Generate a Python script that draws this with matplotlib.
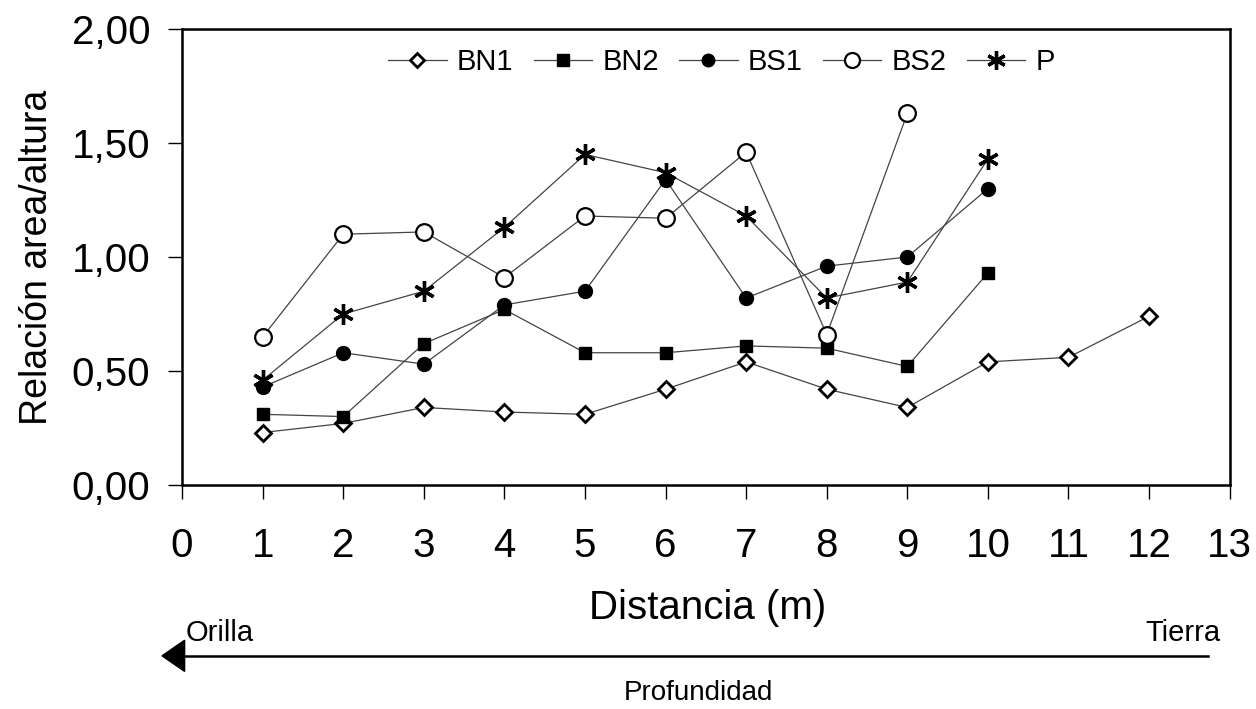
import numpy as np
from matplotlib import pyplot as plt

plt.rcParams['font.family'] = ['Liberation Sans', 'DejaVu Sans']

# Datos
dist = np.arange(1, 13)
bn1 = [0.23, 0.27, 0.34, 0.32, 0.31, 0.42, 0.54, 0.42, 0.34, 0.54, 0.56, 0.74]
bn2 = [0.31, 0.30, 0.62, 0.77, 0.58, 0.58, 0.61, 0.60, 0.52, 0.93]
bs1 = [0.43, 0.58, 0.53, 0.79, 0.85, 1.34, 0.82, 0.96, 1.00, 1.30]
bs2 = [0.65, 1.10, 1.11, 0.91, 1.18, 1.17, 1.46, 0.66, 1.63]
p = [0.46, 0.75, 0.85, 1.13, 1.45, 1.37, 1.18, 0.82, 0.89, 1.43]

yticks = [0.0, 0.5, 1.0, 1.5, 2.0]
ytick_labels = ['0,00', '0,50', '1,00', '1,50', '2,00']

fig = plt.figure(figsize=(12.56, 7.09), dpi=100)
ax = fig.add_axes([0.145, 0.316, 0.834, 0.643])

linea = dict(color='#444444', lw=0.9)
ax.plot(dist[:len(bn1)], bn1, marker='D', ms=8, mfc='white', mec='black', mew=2, label='BN1', **linea)
ax.plot(dist[:len(bn2)], bn2, marker='s', ms=9, mfc='black', mec='black', label='BN2', **linea)
ax.plot(dist[:len(bs1)], bs1, marker='o', ms=10, mfc='black', mec='black', label='BS1', **linea)
ax.plot(dist[:len(bs2)], bs2, marker='o', ms=12, mfc='white', mec='black', mew=1.6, label='BS2', **linea)
ax.plot(dist[:len(p)], p, marker=(6, 2, 0), ms=15, mec='black', mew=2.4, label='P', **linea)

ax.set_xlim(0, 13)
ax.set_ylim(0, 2)
ax.set_xticks(range(14))
ax.set_yticks(yticks)
ax.set_yticklabels(ytick_labels)
ax.tick_params(axis='x', labelsize=29, length=10, width=1, pad=20, direction='out')
ax.tick_params(axis='y', labelsize=29, length=10, width=1, pad=13, direction='out')
for s in ax.spines.values():
    s.set_linewidth(1.8)

ax.set_ylabel('Relación area/altura', fontsize=27, labelpad=12)

leg = ax.legend(loc='upper center', bbox_to_anchor=(0.515, 1.015), ncol=5, frameon=False,
                fontsize=21, handlelength=2.0, handletextpad=0.35, columnspacing=0.7,
                markerscale=0.9)

# Textos y flecha de abajo
fig.text(0.563, 0.143, 'Distancia (m)', fontsize=29, ha='center', va='center')
fig.text(0.148, 0.107, 'Orilla', fontsize=21, ha='left', va='center')
fig.text(0.972, 0.107, 'Tierra', fontsize=21, ha='right', va='center')
fig.text(0.556, 0.022, 'Profundidad', fontsize=20, ha='center', va='center')
fig.add_artist(plt.Line2D([0.14, 0.962], [0.075, 0.075], color='black', lw=1.8))
fig.patches.append(plt.Polygon([[0.129, 0.075], [0.147, 0.097], [0.147, 0.053]],
                               closed=True, color='black', transform=fig.transFigure, figure=fig))

plt.savefig('out.png')
